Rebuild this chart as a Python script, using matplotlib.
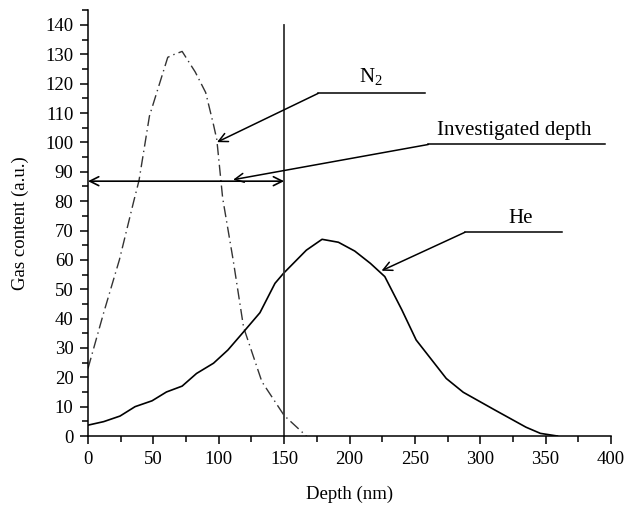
import matplotlib.pyplot as plt
from matplotlib.ticker import MultipleLocator

plt.rcParams['font.family'] = ['Liberation Serif', 'DejaVu Serif']
plt.rcParams['mathtext.fontset'] = 'custom'
plt.rcParams['mathtext.rm'] = 'Liberation Serif'

# N2 profile (dash-dot)
n2_depth = [0, 12, 24, 35, 39, 47, 54, 61, 66, 72, 82, 90, 96, 98.5, 103, 111, 119, 133, 150, 167]
n2_content = [23, 42, 60, 80, 87, 109, 119, 129, 130, 131, 124, 117, 106, 101, 81, 60, 37, 18.5, 7, 0]

# He profile (solid)
he_depth = [0, 12, 24.5, 36, 49, 60, 72, 83, 96, 107, 120, 131.5, 143, 149.5, 167, 179,
            191.5, 204, 216, 227, 240, 251, 264, 274, 287, 311, 335, 346, 359]
he_content = [3.7, 4.9, 6.8, 10, 12, 15, 17, 21.3, 24.8, 29.3, 36, 42, 52, 55.4, 63.3, 67,
              66, 63, 58.8, 54.3, 43, 32.7, 25.3, 19.6, 14.9, 8.9, 3, 0.9, 0]

investigated = 150
arrow_level = 86.8

fig = plt.figure(figsize=(6.25, 5.08), dpi=100)
ax = fig.add_axes([0.1408, 0.1417, 0.8368, 0.838])

ax.plot(n2_depth, n2_content, color='#333333', lw=1.0, dashes=(8, 3, 1, 3))
ax.plot(he_depth, he_content, color='black', lw=1.2)
ax.plot([investigated, investigated], [0, 140], color='#333333', lw=1.3)

# investigated depth double arrow
ax.annotate('', xy=(0, arrow_level), xytext=(investigated, arrow_level),
            arrowprops=dict(arrowstyle='<->', color='black', lw=1.2,
                            shrinkA=0, shrinkB=0, mutation_scale=16))

# callouts
arr = dict(arrowstyle='->', color='black', lw=1.1, shrinkA=0, shrinkB=0, mutation_scale=16)
ax.plot([176, 257.7], [116.7, 116.7], color='black', lw=1.1)
ax.annotate('', xy=(98.7, 100.1), xytext=(176, 116.7), arrowprops=arr)
ax.text(216.5, 118.5, 'N$_2$', ha='center', va='bottom', fontsize=15)

ax.plot([260.3, 395.4], [99.3, 99.3], color='black', lw=1.1)
ax.annotate('', xy=(111, 87.3), xytext=(260.3, 99.3), arrowprops=arr)
ax.text(325.8, 100.8, 'Investigated depth', ha='center', va='bottom', fontsize=15)

ax.plot([288.3, 362.3], [69.4, 69.4], color='black', lw=1.1)
ax.annotate('', xy=(224.5, 56.3), xytext=(288.3, 69.4), arrowprops=arr)
ax.text(331, 70.8, 'He', ha='center', va='bottom', fontsize=15)

ax.set_xlim(0, 400)
ax.set_ylim(0, 145)
ax.xaxis.set_major_locator(MultipleLocator(50))
ax.xaxis.set_minor_locator(MultipleLocator(25))
ax.yaxis.set_major_locator(MultipleLocator(10))
ax.yaxis.set_minor_locator(MultipleLocator(5))
ax.set_yticks(range(0, 141, 10))
ax.tick_params(which='major', length=5.5, width=1.1, labelsize=13.5, direction='out', pad=5)
ax.tick_params(which='minor', length=4, width=1.1, direction='out')
ax.spines['top'].set_visible(False)
ax.spines['right'].set_visible(False)
for s in ['left', 'bottom']:
    ax.spines[s].set_linewidth(1.1)

ax.set_xlabel('Depth (nm)', fontsize=13.5, labelpad=13)
ax.set_ylabel('Gas content (a.u.)', fontsize=13.5, labelpad=12)

fig.savefig('out.png', dpi=100)
